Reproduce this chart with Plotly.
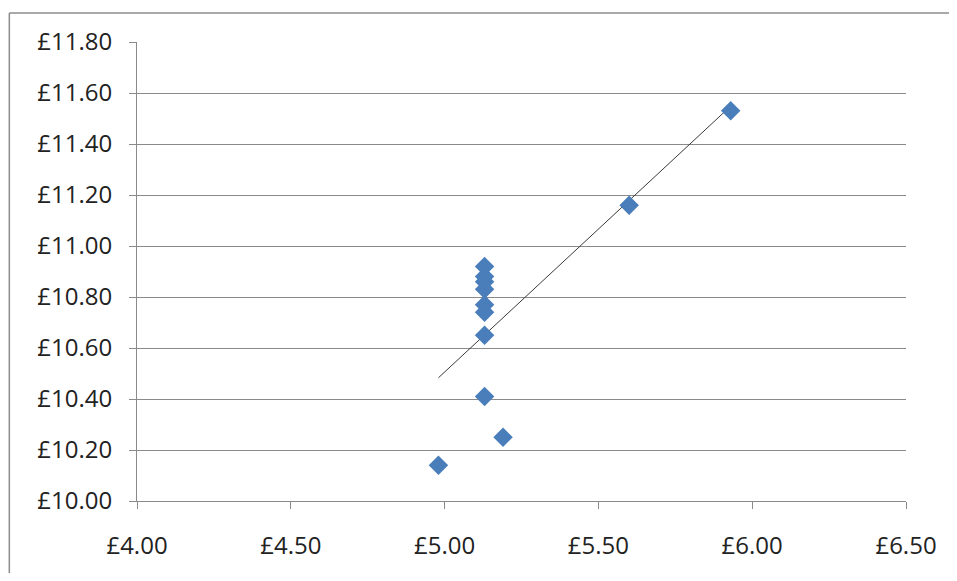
import numpy as np
import plotly.graph_objects as go

x_vals = [4.98, 5.19, 5.13, 5.13, 5.13, 5.13, 5.13, 5.13, 5.13, 5.13, 5.60, 5.93]
y_vals = [10.14, 10.25, 10.41, 10.65, 10.74, 10.77, 10.83, 10.86, 10.88, 10.92, 11.16, 11.53]
x_ticks = [4.0, 4.5, 5.0, 5.5, 6.0, 6.5]
y_ticks = [10.0, 10.2, 10.4, 10.6, 10.8, 11.0, 11.2, 11.4, 11.6, 11.8]

slope, intercept = np.polyfit(x_vals, y_vals, 1)
tx = [min(x_vals), max(x_vals)]
ty = [slope * v + intercept for v in tx]

OFF = 8  # page body margin
W, H = 957 - 2 * OFF, 581 - 2 * OFF
L, R, T, B = 137 - OFF, 911 - OFF, 42 - OFF, 507 - OFF
grid = "#8a8a8a"
font = dict(family="Open Sans", size=24, color="#222222")

fig = go.Figure()
fig.add_trace(go.Scatter(x=tx, y=ty, mode="lines",
                         line=dict(color="#3a3a3a", width=1), hoverinfo="skip"))
fig.add_trace(go.Scatter(x=x_vals, y=y_vals, mode="markers",
                         marker=dict(symbol="diamond", size=15, color="#4a7ebb",
                                     line=dict(width=0))))

bx = (8.5 - OFF - L) / (R - L)
by = (B - (12.5 - OFF)) / (B - T)
fig.add_shape(type="line", xref="paper", yref="paper", x0=bx, x1=bx, y0=-0.3, y1=by,
              line=dict(color="#8c8c8c", width=1.5))
fig.add_shape(type="line", xref="paper", yref="paper", x0=bx, x1=1.2, y0=by, y1=by,
              line=dict(color="#8c8c8c", width=1.5))

fig.update_layout(
    width=W, height=H,
    margin=dict(l=L, r=W - R, t=T, b=H - B),
    paper_bgcolor="white", plot_bgcolor="white",
    showlegend=False, font=font,
    xaxis=dict(range=[4.0, 6.5], tickvals=x_ticks,
               ticktext=["£%.2f" % v for v in x_ticks],
               showgrid=False, zeroline=False, showline=True, linecolor=grid, linewidth=1,
               ticks="outside", ticklen=7, tickcolor=grid, ticklabelstandoff=16),
    yaxis=dict(range=[10.0, 11.8], tickvals=y_ticks,
               ticktext=["£%.2f" % v for v in y_ticks],
               showgrid=True, gridcolor=grid, gridwidth=1, zeroline=False,
               showline=True, linecolor=grid, linewidth=1,
               ticks="outside", ticklen=7, tickcolor=grid, ticklabelstandoff=12),
)
fig.write_html("out.html")
